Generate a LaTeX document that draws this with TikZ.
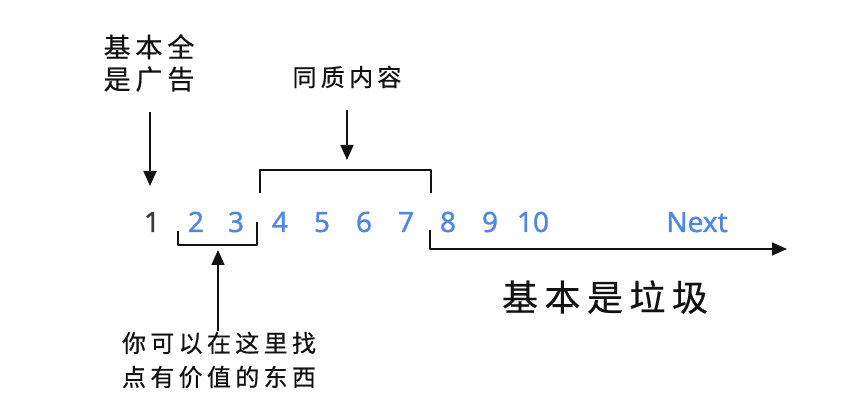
\documentclass[tikz,border=0pt]{standalone}
\usepackage{fontspec}
\usepackage{xcolor}
\usepackage{tikz}
\usetikzlibrary{arrows.meta}
\setmainfont{Noto Sans}
\newfontfamily\digits[FakeBold=1.2]{Noto Sans}
\newfontfamily\cjk[LetterSpace=18,FakeBold=0.5]{Noto Sans CJK SC}
\definecolor{ink}{HTML}{111111}
\definecolor{grey}{HTML}{3A3A3A}
\definecolor{link}{HTML}{4F87E3}
\tikzset{
  line/.style={draw=ink, line width=1.7pt, line join=round},
  arr/.style={line, -{Triangle[length=15pt,width=13pt]}},
  num/.style={text=link, font=\fontsize{28}{28}\selectfont\digits, inner sep=0pt, anchor=base},
  cur/.style={num, text=grey},
  note/.style={text=ink, align=center, inner sep=0pt},
}

\begin{document}
\begin{tikzpicture}[x=1pt,y=-1pt]
  \useasboundingbox[fill=white] (0,0) rectangle (849,414);
  % page numbers
  \node[cur] (n1) at (152,232) {1};
  \node[num] (n2) at (196,232) {2};
  \node[num] (n3) at (236,232) {3};
  \node[num] (n4) at (280,232) {4};
  \node[num] (n5) at (322,232) {5};
  \node[num] (n6) at (364,232) {6};
  \node[num] (n7) at (406,232) {7};
  \node[num] (n8) at (448,232) {8};
  \node[num] (n9) at (490,232) {9};
  \node[num] (n10) at (533,232) {10};
  \node[num] (next) at (697,232) {Next};
  % notes
  \node[note, font=\fontsize{27}{32}\selectfont\cjk] (ads) at (149,63) {基本全\\是广告};
  \node[note, font=\fontsize{24}{24}\selectfont\cjk] (same) at (347,77) {同质内容};
  \node[note, font=\fontsize{36}{36}\selectfont\cjk] (junk) at (605,297) {基本是垃圾};
  \node[note, font=\fontsize{24}{34}\selectfont\cjk] (gem) at (219,360) {你可以在这里找\\点有价值的东西};
  % brackets
  \coordinate (b1) at (178,231);
  \coordinate (b2) at (178,245);
  \coordinate (b3) at (257,245);
  \coordinate (b4) at (257,222);
  \draw[line] (b1) -- (b2) -- (b3) -- (b4);
  \coordinate (t1) at (260,193);
  \coordinate (t2) at (260,170);
  \coordinate (t3) at (431,170);
  \coordinate (t4) at (431,193);
  \draw[line] (t1) -- (t2) -- (t3) -- (t4);
  \coordinate (r1) at (430,230);
  \coordinate (r2) at (430,249);
  \coordinate (r3) at (787,249);
  \draw[arr] (r1) -- (r2) -- (r3);
  % arrows
  \coordinate (a1) at (150,112);
  \coordinate (a2) at (150,186);
  \draw[arr] (a1) -- (a2);
  \coordinate (s1) at (347,110);
  \coordinate (s2) at (347,160);
  \draw[arr] (s1) -- (s2);
  \coordinate (g1) at (218,331);
  \coordinate (g2) at (218,250);
  \draw[arr] (g1) -- (g2);
\end{tikzpicture}
\end{document}
